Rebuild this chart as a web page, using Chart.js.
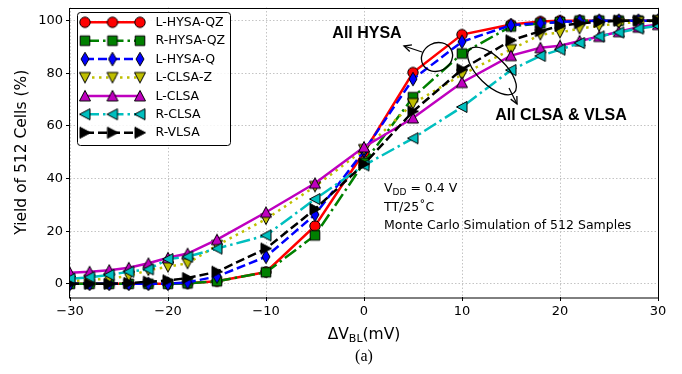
<!DOCTYPE html>
<html><head><meta charset="utf-8">
<script src="https://cdn.jsdelivr.net/npm/chart.js@4.4.1/dist/chart.umd.min.js"></script>
<style>html,body{margin:0;padding:0;background:#fff;}#wrap{width:682px;height:374px;}</style>
</head><body><div id="wrap"><canvas id="c" width="682" height="374"></canvas></div>
<script>
const xValues = [-30,-28,-26,-24,-22,-20,-18,-15,-10,-5,0,5,10,15,18,20,22,24,26,28,30];
const seriesNames = ['L-HYSA-QZ','R-HYSA-QZ','L-HYSA-Q','L-CLSA-Z','L-CLSA','R-CLSA','R-VLSA'];
const lHysaQz = [0,0,0,0,0,0,0.2,1,4.5,22,50,80.3,94.7,98.5,99.7,100,100,100,100,100,100];
const rHysaQz = [0,0,0,0,0,0,0.2,1,4.4,18.4,46,70.9,87.5,97.8,99,99.5,100,100,100,100,100];
const lHysaQ  = [0,0,0,0,0,0,0.6,2.8,10.3,26.3,50.5,77.8,92,98.3,99,99.5,99.8,100,100,100,100];
const lClsaZ  = [1,1.5,2,3,5.2,6.5,7.8,14.6,24.6,37,51,68.5,79.5,89,94.7,95.5,97,98,99,99.5,100];
const lClsa   = [4.2,4.6,5.2,6.1,7.8,9.9,11.5,16.8,27.2,38.2,52,63,76.5,86.7,89.7,90.5,92.3,94,95.8,97.5,98.5];
const rClsa   = [1.9,2.5,3.4,4.6,5.5,9.4,10.3,13.4,18.4,32.2,45,55.3,67.2,81.2,86.6,89,91.5,94,95.5,97,98];
const rVlsa   = [0,0,0,0.3,0.8,1.3,2.2,4.6,13.4,28.4,45.5,65.5,81.5,92.5,96,98,99,99.5,100,100,100];
const yTickValues = [0,20,40,60,80,100];
const xTickValues = [-30,-20,-10,0,10,20,30];
const xTickLabels = ['\u221230','\u221220','\u221210','0','10','20','30'];

const FONT = '"DejaVu Sans", sans-serif';

function makeMarker(shape, fill){
  const c = document.createElement('canvas');
  c.width = 18; c.height = 18;
  const g = c.getContext('2d');
  g.translate(9,9);
  g.beginPath();
  if (shape === 'circle') { g.arc(0,0,5.2,0,Math.PI*2); }
  else if (shape === 'square') { g.rect(-4.8,-4.8,9.6,9.6); }
  else if (shape === 'thin') { g.moveTo(0,-6.8); g.lineTo(4,0); g.lineTo(0,6.8); g.lineTo(-4,0); g.closePath(); }
  else if (shape === 'tri') { g.moveTo(0,-5.5); g.lineTo(5.5,5); g.lineTo(-5.5,5); g.closePath(); }
  g.fillStyle = fill; g.fill();
  g.lineWidth = 1; g.strokeStyle = '#000'; g.stroke();
  return c;
}

const styles = [
  {color:'#ff0000', dash:[], marker:makeMarker('circle','#ff0000'), rot:0},
  {color:'#008000', dash:[14,4,2.5,4], marker:makeMarker('square','#008000'), rot:0},
  {color:'#0000ff', dash:[9,4], marker:makeMarker('thin','#0000ff'), rot:0},
  {color:'#bfbf00', dash:[2.5,4.5], marker:makeMarker('tri','#bfbf00'), rot:180},
  {color:'#bf00bf', dash:[], marker:makeMarker('tri','#bf00bf'), rot:0},
  {color:'#00bfbf', dash:[14,4,2.5,4], marker:makeMarker('tri','#00bfbf'), rot:270},
  {color:'#000000', dash:[9,4], marker:makeMarker('tri','#000000'), rot:90}
];
const seriesData = [lHysaQz, rHysaQz, lHysaQ, lClsaZ, lClsa, rClsa, rVlsa];

const datasets = seriesData.map((arr,i)=>({
  label: seriesNames[i],
  data: arr.map((v,j)=>({x:xValues[j], y:v})),
  borderColor: styles[i].color,
  backgroundColor: styles[i].color,
  borderWidth: 2.5,
  borderDash: styles[i].dash,
  pointStyle: styles[i].marker,
  pointRotation: styles[i].rot,
  pointRadius: 5,
  pointHoverRadius: 5,
  tension: 0,
  clip: 0,
  order: seriesData.length - 1 - i
}));

function drawArrowHead(ctx, x1, y1, x2, y2, len){
  const ang = Math.atan2(y2-y1, x2-x1);
  ctx.beginPath();
  ctx.moveTo(x2 - len*Math.cos(ang-0.45), y2 - len*Math.sin(ang-0.45));
  ctx.lineTo(x2, y2);
  ctx.lineTo(x2 - len*Math.cos(ang+0.45), y2 - len*Math.sin(ang+0.45));
  ctx.stroke();
}

const deco = {
  id:'deco',
  afterDatasetsDraw(chart){
    const ctx = chart.ctx, a = chart.chartArea;
    ctx.save();
    // frame
    ctx.strokeStyle = '#000'; ctx.lineWidth = 1; ctx.setLineDash([]);
    ctx.strokeRect(Math.round(a.left)-0.5, Math.round(a.top)+0.5, Math.round(a.right-a.left)+1, Math.round(a.bottom-a.top)-0.5);

    // loops and arrows
    ctx.lineWidth = 1.3;
    ctx.beginPath(); ctx.ellipse(437,57,16,14,-0.5,0,Math.PI*2); ctx.stroke();
    ctx.beginPath(); ctx.moveTo(422,52); ctx.lineTo(404,46); ctx.stroke();
    drawArrowHead(ctx,422,52,404,46,8);
    ctx.beginPath(); ctx.ellipse(492,71,31,14,0.77,0,Math.PI*2); ctx.stroke();
    ctx.beginPath(); ctx.moveTo(509,88); ctx.lineTo(517,104); ctx.stroke();
    drawArrowHead(ctx,509,88,517,104,8);

    ctx.fillStyle = '#000';
    ctx.font = 'bold 16px "Liberation Sans", Arial, sans-serif';
    ctx.textAlign = 'center'; ctx.textBaseline = 'middle';
    ctx.fillText('All HYSA', 367, 34);
    ctx.fillText('All CLSA & VLSA', 561, 116);

    // condition annotations
    ctx.textAlign = 'left'; ctx.textBaseline = 'alphabetic';
    ctx.font = '12.5px ' + FONT;
    let x = 384, y = 192;
    ctx.fillText('V', x, y); x += ctx.measureText('V').width;
    ctx.font = '9px ' + FONT; ctx.fillText('DD', x, y+3); x += ctx.measureText('DD').width;
    ctx.font = '12.5px ' + FONT; ctx.fillText(' = 0.4 V', x, y);
    ctx.fillText('TT/25\u02DAC', 384, 211);
    ctx.fillText('Monte Carlo Simulation of 512 Samples', 384, 229);

    // legend
    const lx = 77.5, ly = 12.5, lw = 153, lh = 133;
    ctx.beginPath();
    if (ctx.roundRect) ctx.roundRect(lx, ly, lw, lh, 3); else ctx.rect(lx, ly, lw, lh);
    ctx.fillStyle = 'rgba(255,255,255,0.85)'; ctx.fill();
    ctx.strokeStyle = '#000'; ctx.lineWidth = 1; ctx.stroke();
    for (let i=0;i<seriesNames.length;i++){
      const yy = 22.3 + i*18.4;
      const st = styles[i];
      ctx.strokeStyle = st.color; ctx.lineWidth = 2.5; ctx.setLineDash(st.dash);
      ctx.beginPath(); ctx.moveTo(85,yy); ctx.lineTo(140,yy); ctx.stroke();
      ctx.setLineDash([]);
      [85,112.5,140].forEach(mx=>{
        ctx.save(); ctx.translate(mx,yy); ctx.rotate(st.rot*Math.PI/180);
        ctx.drawImage(st.marker,-9,-9,18,18); ctx.restore();
      });
      ctx.fillStyle = '#000'; ctx.font = '12.5px ' + FONT;
      ctx.textAlign = 'left'; ctx.textBaseline = 'middle';
      ctx.fillText(seriesNames[i], 155.5, yy+0.5);
    }
    ctx.restore();
  },
  afterDraw(chart){
    const ctx = chart.ctx, a = chart.chartArea;
    ctx.save();
    ctx.fillStyle = '#000';
    const p1 = '\u0394V', p2 = 'BL', p3 = '(mV)';
    ctx.font = '15.5px ' + FONT; const w1 = ctx.measureText(p1).width, w3 = ctx.measureText(p3).width;
    ctx.font = '11px ' + FONT; const w2 = ctx.measureText(p2).width;
    let x = (a.left + a.right)/2 - (w1+w2+w3)/2; const y = 339;
    ctx.textAlign = 'left'; ctx.textBaseline = 'alphabetic';
    ctx.font = '15.5px ' + FONT; ctx.fillText(p1, x, y); x += w1;
    ctx.font = '11px ' + FONT; ctx.fillText(p2, x, y+3); x += w2;
    ctx.font = '15.5px ' + FONT; ctx.fillText(p3, x, y);
    ctx.save(); ctx.translate(22, (a.top + a.bottom)/2); ctx.rotate(-Math.PI/2);
    ctx.textAlign = 'center'; ctx.textBaseline = 'middle';
    ctx.font = '15.5px ' + FONT; ctx.fillText('Yield of 512 Cells (%)', 0, 0);
    ctx.restore();
    ctx.font = '16px "Liberation Serif", "Times New Roman", serif';
    ctx.textAlign = 'center'; ctx.textBaseline = 'middle';
    ctx.fillText('(a)', (a.left + a.right)/2, 357);
    ctx.restore();
  }
};

new Chart(document.getElementById('c'), {
  type: 'line',
  data: { datasets },
  options: {
    responsive: false, animation: false, devicePixelRatio: 1,
    events: [],
    layout: { padding: { left: 0, right: 24, top: 5, bottom: 0 } },
    plugins: { legend: { display: false }, tooltip: { enabled: false }, title: { display: false } },
    scales: {
      x: {
        type: 'linear', min: -30, max: 30,
        afterFit: s => { s.height = 77; s.paddingLeft = 0; s.paddingRight = 0; },
        afterBuildTicks: s => { s.ticks = xTickValues.map(v => ({ value: v })); },
        ticks: { font: { family: FONT, size: 13 }, color: '#000', padding: 3, maxRotation: 0,
                 callback: (v) => xTickLabels[xTickValues.indexOf(v)] },
        grid: { color: '#c4c4c4', lineWidth: 1, drawTicks: true, tickLength: 4, tickColor: '#000', tickWidth: 1 },
        border: { display: false, dash: [1.5, 2] }
      },
      y: {
        type: 'linear', min: -5, max: 105,
        afterFit: s => { s.width = 70; s.paddingTop = 0; s.paddingBottom = 0; },
        afterBuildTicks: s => { s.ticks = yTickValues.map(v => ({ value: v })); },
        ticks: { font: { family: FONT, size: 13 }, color: '#000', padding: 3 },
        grid: { color: '#c4c4c4', lineWidth: 1, drawTicks: true, tickLength: 4, tickColor: '#000', tickWidth: 1 },
        border: { display: false, dash: [1.5, 2] }
      }
    }
  },
  plugins: [deco]
});
</script>
</body></html>
